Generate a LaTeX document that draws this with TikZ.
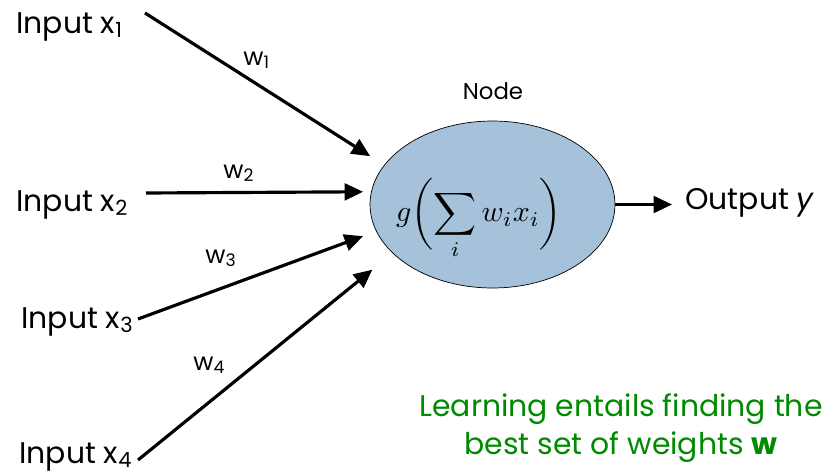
\documentclass[tikz,border=0pt]{standalone}
\usepackage{fontspec}
\setmainfont{Poppins}
\usetikzlibrary{positioning,arrows.meta,shapes.geometric}
\usepackage{xcolor}
\definecolor{nodeblue}{HTML}{A5C2DA}
\definecolor{learngreen}{HTML}{008A00}

\begin{document}
\begin{tikzpicture}[x=0.02cm,y=-0.02cm]
      \tikzstyle{inp}=[font=\fontsize{17}{20}\selectfont,inner sep=0pt,anchor=base west]
      \tikzstyle{wlab}=[font=\fontsize{14}{16}\selectfont,inner sep=0pt,anchor=base west]
      \tikzstyle{arr}=[-{Triangle[length=10.5pt,width=9.5pt]},line width=1.8pt]
      \useasboundingbox (0,0) rectangle (833,474);
      % neuron
      \node[ellipse,draw,thin,fill=nodeblue,minimum width=4.9cm,minimum height=3.34cm,inner sep=0pt] (nd) at (492.5,204.5) {};
      \node[inner sep=0pt] (fx) at (479,219)
        {\scalebox{1.7}{$\displaystyle g\biggl(\sum_i w_ix_i\biggr)$}};
      \node[font=\fontsize{13}{15}\selectfont,inner sep=0pt,anchor=base] (lbl) at (493,99) {Node};
      % inputs
      \node[inp] (in1) at (16,33) {Input x\textsubscript{1}};
      \node[inp] (in2) at (16,211) {Input x\textsubscript{2}};
      \node[inp] (in3) at (21,328) {Input x\textsubscript{3}};
      \node[inp] (in4) at (19,463) {Input x\textsubscript{4}};
      \coordinate (t1) at (145,13);
      \coordinate (t2) at (146,193);
      \coordinate (t3) at (138,319);
      \coordinate (t4) at (138,460);
      \draw[arr,shorten >=0.33cm] (t1) -- (nd.160.7);
      \draw[arr,shorten >=0.16cm] (t2) -- (nd.174.9);
      \draw[arr,shorten >=0.28cm] (t3) -- (nd.193.3);
      \draw[arr,shorten >=0.52cm] (t4) -- (nd.206.3);
      % weights
      \node[wlab] (w1) at (243,65) {w\textsubscript{1}};
      \node[wlab] (w2) at (223,178) {w\textsubscript{2}};
      \node[wlab] (w3) at (205,263) {w\textsubscript{3}};
      \node[wlab] (w4) at (193,370) {w\textsubscript{4}};
      % output
      \node[inp] (out) at (685,209) {Output \textit{y}};
      \draw[arr,shorten >=0.26cm] (nd.east) -- (out.west |- nd.east);
      \node[font=\fontsize{17}{20}\selectfont,text=learngreen,align=center,inner sep=0pt,anchor=north] (note) at (621,393)
        {Learning entails finding the\\[2pt] best set of weights \textbf{w}};
\end{tikzpicture}
\end{document}
